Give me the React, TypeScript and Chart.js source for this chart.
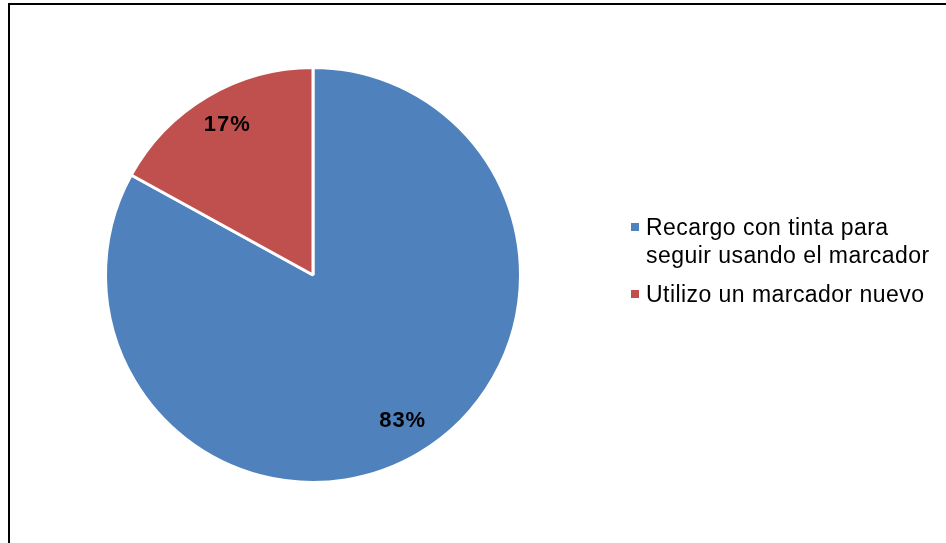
import React, { useEffect, useRef } from "react";
import { Chart, registerables } from "chart.js";

Chart.register(...registerables);

const categories = [
  "Recargo con tinta para seguir usando el marcador",
  "Utilizo un marcador nuevo",
];
const legendLines = [
  ["Recargo con tinta para", "seguir usando el marcador"],
  ["Utilizo un marcador nuevo"],
];
const values = [83, 17];
const colors = ["#4F81BD", "#C0504D"];

const FONT = "'Liberation Sans', Arial, sans-serif";

const labelPlugin = {
  id: "pctLabels",
  afterDatasetsDraw(chart: any) {
    const ctx = chart.ctx;
    const meta = chart.getDatasetMeta(0);
    const total = values.reduce((a, b) => a + b, 0);
    ctx.save();
    ctx.font = `bold 22px ${FONT}`;
    (ctx as any).letterSpacing = "1px";
    ctx.fillStyle = "#000";
    ctx.textAlign = "center";
    ctx.textBaseline = "middle";
    meta.data.forEach((arc: any, i: number) => {
      const p = arc.getProps(["x", "y", "startAngle", "endAngle", "outerRadius"], true);
      const mid = (p.startAngle + p.endAngle) / 2;
      const r = p.outerRadius * 0.83;
      const txt = Math.round((values[i] / total) * 100) + "%";
      ctx.fillText(txt, p.x + Math.cos(mid) * r + 2, p.y + Math.sin(mid) * r - 2);
    });
    ctx.restore();
  },
};

const legendPlugin = {
  id: "sideLegend",
  afterDraw(chart: any) {
    const ctx = chart.ctx;
    const x0 = 631;
    const lineH = 28;
    const startY = [235, 302];
    ctx.save();
    ctx.font = `23px ${FONT}`;
    (ctx as any).letterSpacing = "0.45px";
    ctx.textBaseline = "alphabetic";
    ctx.textAlign = "left";
    categories.forEach((_c, i) => {
      const y = startY[i];
      ctx.fillStyle = colors[i];
      ctx.fillRect(x0, y - 12, 8, 8);
      ctx.fillStyle = "#000";
      legendLines[i].forEach((ln, j) => {
        ctx.fillText(ln, x0 + 15, y + j * lineH);
      });
    });
    ctx.restore();
  },
};

export default function App() {
  const ref = useRef<HTMLCanvasElement>(null);
  useEffect(() => {
    document.body.style.margin = "0";
    const chart = new Chart(ref.current!, {
      type: "pie",
      data: {
        labels: categories,
        datasets: [
          {
            data: values,
            backgroundColor: colors,
            borderColor: "#ffffff",
            borderWidth: 3,
          },
        ],
      },
      options: {
        responsive: false,
        animation: false,
        layout: { padding: { left: 104, top: 66, right: 424, bottom: 59 } },
        plugins: {
          legend: { display: false },
          tooltip: { enabled: false },
        },
      },
      plugins: [labelPlugin, legendPlugin],
    });
    return () => chart.destroy();
  }, []);
  return (
    <div
      style={{
        position: "fixed",
        left: 0,
        top: 0,
        width: 946,
        height: 543,
        background: "#fff",
        overflow: "hidden",
      }}
    >
      <div
        style={{
          position: "absolute",
          left: 8,
          top: 3,
          width: 1200,
          height: 800,
          borderLeft: "2px solid #000",
          borderTop: "2px solid #000",
        }}
      />
      <canvas
        ref={ref}
        width={946}
        height={543}
        style={{ position: "absolute", left: 0, top: 0 }}
      />
    </div>
  );
}
